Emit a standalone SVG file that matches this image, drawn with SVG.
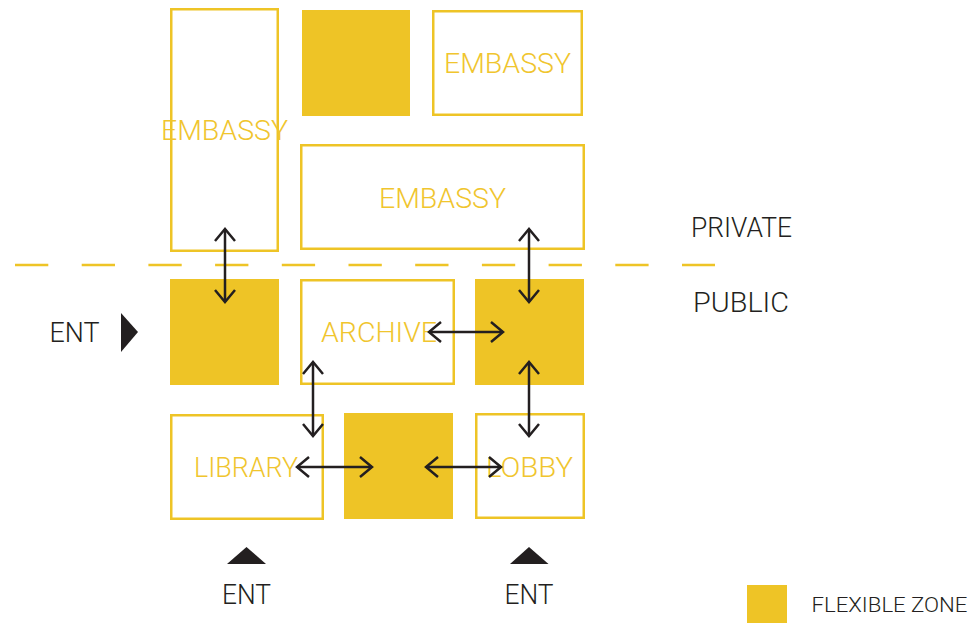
<svg xmlns="http://www.w3.org/2000/svg" width="974" height="623" viewBox="0 0 974 623">
<style>
.zone{fill:none;stroke:#EEC426;stroke-width:2.5}
.flex{fill:#EEC426}
.lbl{fill:#F0C52E;font-family:Roboto,"Liberation Sans",sans-serif;font-weight:300;font-size:27px;text-anchor:middle}
.dark{fill:#231F20;font-family:Roboto,"Liberation Sans",sans-serif;font-weight:300;text-anchor:middle}
.conn{stroke:#231F20;stroke-width:2.5;fill:none;marker-start:url(#chev);marker-end:url(#chev)}
</style>
<defs>
<marker id="chev" markerUnits="userSpaceOnUse" markerWidth="30" markerHeight="30" viewBox="-15 -15 30 30" refX="0" refY="0" orient="auto-start-reverse">
<path d="M -12 -10 L 0 0 L -12 10" fill="none" stroke="#231F20" stroke-width="2.5"/>
</marker>
</defs>
<rect width="974" height="623" fill="#FFFFFF"/>
<line x1="15" y1="265" x2="715" y2="265" stroke="#EEC426" stroke-width="2.5" stroke-dasharray="33.3 33.4"/>
<g id="embassy-tall"><rect class="zone" x="171.25" y="9.25" width="106.5" height="241.5"/><text class="lbl" x="224.5" y="140" textLength="127" lengthAdjust="spacingAndGlyphs">EMBASSY</text></g>
<g id="flex-top"><rect class="flex" x="302" y="10" width="108" height="106"/></g>
<g id="embassy-top-right"><rect class="zone" x="433.25" y="11.25" width="148.5" height="103.5"/><text class="lbl" x="507.5" y="72.5" textLength="127" lengthAdjust="spacingAndGlyphs">EMBASSY</text></g>
<g id="embassy-wide"><rect class="zone" x="301.25" y="145.25" width="282.5" height="103.5"/><text class="lbl" x="442.5" y="208" textLength="127" lengthAdjust="spacingAndGlyphs">EMBASSY</text></g>
<g id="label-private"><text class="dark" x="741.5" y="236.5" font-size="27" textLength="101" lengthAdjust="spacingAndGlyphs">PRIVATE</text></g>
<g id="label-public"><text class="dark" x="741" y="311.5" font-size="27" textLength="96" lengthAdjust="spacingAndGlyphs">PUBLIC</text></g>
<g id="ent-left"><text class="dark" x="74.5" y="342" font-size="27" textLength="50" lengthAdjust="spacingAndGlyphs">ENT</text><polygon points="121,313 138,332 121,352" fill="#231F20"/></g>
<g id="flex-left"><rect class="flex" x="170" y="279" width="109" height="106"/></g>
<g id="archive"><rect class="zone" x="301.25" y="280.25" width="152.5" height="103.5"/><text class="lbl" x="379" y="342" textLength="116" lengthAdjust="spacingAndGlyphs">ARCHIVE</text></g>
<g id="flex-right"><rect class="flex" x="475" y="279" width="109" height="106"/></g>
<g id="library"><rect class="zone" x="171.25" y="415.25" width="151.5" height="103.5"/><text class="lbl" x="246" y="477" textLength="104" lengthAdjust="spacingAndGlyphs">LIBRARY</text></g>
<g id="flex-bottom"><rect class="flex" x="344" y="413" width="109" height="106"/></g>
<g id="lobby"><rect class="zone" x="476.25" y="414.25" width="107.5" height="103.5"/><text class="lbl" x="529.5" y="477" textLength="87" lengthAdjust="spacingAndGlyphs">LOBBY</text></g>
<g id="ent-bottom-left"><polygon points="227,564 246.5,547 266,564" fill="#231F20"/><text class="dark" x="246.5" y="604" font-size="27" textLength="49" lengthAdjust="spacingAndGlyphs">ENT</text></g>
<g id="ent-bottom-right"><polygon points="510,564 529,547 548.5,564" fill="#231F20"/><text class="dark" x="529" y="604" font-size="27" textLength="49" lengthAdjust="spacingAndGlyphs">ENT</text></g>
<g id="legend"><rect class="flex" x="747" y="585" width="40" height="38"/><text class="dark" x="889.5" y="612" font-size="20" textLength="156" lengthAdjust="spacingAndGlyphs">FLEXIBLE ZONE</text></g>
<g id="connectors">
<line class="conn" x1="225" y1="229" x2="225" y2="302"/>
<line class="conn" x1="529" y1="229" x2="529" y2="302"/>
<line class="conn" x1="429" y1="332" x2="503" y2="332"/>
<line class="conn" x1="313" y1="362" x2="313" y2="436"/>
<line class="conn" x1="529" y1="362" x2="529" y2="436"/>
<line class="conn" x1="297" y1="467" x2="372" y2="467"/>
<line class="conn" x1="426" y1="467" x2="501" y2="467"/>
</g>
</svg>
